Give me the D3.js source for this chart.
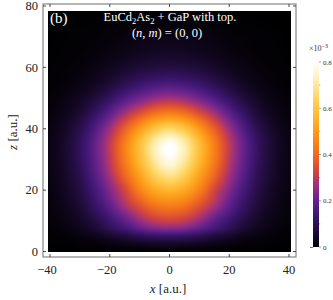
<!DOCTYPE html>
<html><head><meta charset="utf-8">
<script src="https://cdn.jsdelivr.net/npm/d3@7"></script>
<style>html,body{margin:0;padding:0;background:#fff;}svg{display:block;}</style>
</head><body>
<svg id="chart" width="333" height="300"></svg>
<script>
// ---- data (values in units of 1e-3), rows read at fixed z, columns at xGrid ----
const xGrid = [-40,-35,-30,-25,-20,-15,-10,-5,0,5,10,15,20,25,30,35,40];
const zGrid = [0,2.5,5,7.5,10,15,20,25,30,35,40,45,50,55,60,65,70,75,80];
const z0   = [0,0,0,0,0,0,0,0,0,0,0,0,0,0,0,0,0];
const z2_5 = [0.002,0.003,0.007,0.011,0.019,0.027,0.037,0.044,0.046,0.044,0.037,0.027,0.019,0.011,0.007,0.003,0.002];
const z5   = [0.004,0.008,0.017,0.029,0.050,0.072,0.099,0.118,0.124,0.118,0.099,0.072,0.050,0.029,0.017,0.008,0.004];
const z7_5 = [0.008,0.017,0.033,0.058,0.101,0.144,0.194,0.231,0.244,0.231,0.194,0.144,0.101,0.058,0.033,0.017,0.008];
const z10  = [0.011,0.023,0.043,0.077,0.131,0.188,0.257,0.306,0.321,0.306,0.257,0.188,0.131,0.077,0.043,0.023,0.011];
const z15  = [0.015,0.032,0.063,0.119,0.192,0.280,0.355,0.419,0.440,0.419,0.355,0.280,0.192,0.119,0.063,0.032,0.015];
const z20  = [0.019,0.040,0.079,0.148,0.235,0.330,0.445,0.530,0.560,0.530,0.445,0.330,0.235,0.148,0.079,0.040,0.019];
const z25  = [0.022,0.047,0.095,0.175,0.275,0.395,0.515,0.630,0.690,0.630,0.515,0.395,0.275,0.175,0.095,0.047,0.022];
const z30  = [0.024,0.051,0.105,0.192,0.300,0.435,0.570,0.705,0.780,0.705,0.570,0.435,0.300,0.192,0.105,0.051,0.024];
const z35  = [0.024,0.053,0.108,0.195,0.305,0.440,0.580,0.720,0.795,0.720,0.580,0.440,0.305,0.195,0.108,0.053,0.024];
const z40  = [0.021,0.045,0.090,0.168,0.265,0.380,0.495,0.600,0.650,0.600,0.495,0.380,0.265,0.168,0.090,0.045,0.021];
const z45  = [0.015,0.031,0.061,0.116,0.190,0.275,0.350,0.415,0.440,0.415,0.350,0.275,0.190,0.116,0.061,0.031,0.015];
const z50  = [0.009,0.020,0.039,0.069,0.115,0.168,0.215,0.255,0.272,0.255,0.215,0.168,0.115,0.069,0.039,0.020,0.009];
const z55  = [0.006,0.011,0.022,0.038,0.061,0.094,0.124,0.145,0.154,0.145,0.124,0.094,0.061,0.038,0.022,0.011,0.006];
const z60  = [0.003,0.007,0.012,0.023,0.035,0.050,0.065,0.076,0.080,0.076,0.065,0.050,0.035,0.023,0.012,0.007,0.003];
const z65  = [0.002,0.004,0.007,0.012,0.019,0.028,0.035,0.041,0.043,0.041,0.035,0.028,0.019,0.012,0.007,0.004,0.002];
const z70  = [0.001,0.003,0.005,0.008,0.012,0.017,0.022,0.025,0.026,0.025,0.022,0.017,0.012,0.008,0.005,0.003,0.001];
const z75  = [0.001,0.001,0.002,0.003,0.005,0.007,0.009,0.010,0.010,0.010,0.009,0.007,0.005,0.003,0.002,0.001,0.001];
const z80  = [0.000,0.001,0.001,0.001,0.002,0.003,0.003,0.004,0.004,0.004,0.003,0.003,0.002,0.001,0.001,0.001,0.000];
const rows = [z0,z2_5,z5,z7_5,z10,z15,z20,z25,z30,z35,z40,z45,z50,z55,z60,z65,z70,z75,z80];

const xTicks = [-40,-20,0,20,40];
const zTicks = [0,20,40,60,80];
const cbTicks = [0,0.2,0.4,0.6,0.8];
const cbMinor = [0.1,0.3,0.5,0.7];
const vMax = 0.8;
const xExtent = [-40.8, 40.8];
const zExtent = [0, 78.5];

// colour map (sunset-like)
const cStops = [0,0.07,0.17,0.25,0.33,0.41,0.50,0.60,0.70,0.80,0.90,1];
const cCols  = ["#000000","#1a0a30","#3d1670","#63228c","#9a2f80","#d2443f","#f06a20","#fb9216","#ffb52e","#ffd35e","#ffeeb0","#ffffff"];

// ---- scales ----
const x = d3.scaleLinear().domain([-40,40]).range([50,289]);
const y = d3.scaleLinear().domain([0,80]).range([251.5,6]);
const color = d3.scaleLinear().domain(cStops.map(s=>s*vMax)).range(cCols).interpolate(d3.interpolateRgb).clamp(true);
const cbY = d3.scaleLinear().domain([0,vMax]).range([247,62]);

const svg = d3.select("#chart");
const FONT = "'Liberation Serif','Times New Roman',serif";

// ---- smooth sampling of the grid ----
function cr(p0,p1,p2,p3,t){
  return 0.5*((2*p1)+(-p0+p2)*t+(2*p0-5*p1+4*p2-p3)*t*t+(-p0+3*p1-3*p2+p3)*t*t*t);
}
function rowAt(row,xv){
  const nx=xGrid.length;
  let fx=(xv-xGrid[0])/(xGrid[1]-xGrid[0]);
  fx=Math.max(0,Math.min(nx-1,fx));
  const ix=Math.min(nx-2,Math.floor(fx)), tx=fx-ix;
  const cl=i=>Math.max(0,Math.min(nx-1,i));
  return cr(row[cl(ix-1)],row[ix],row[ix+1],row[cl(ix+2)],tx);
}
const zBis = d3.bisector(d=>d).right;
function sample(xv,zv){
  const nz=zGrid.length;
  zv=Math.max(zGrid[0],Math.min(zGrid[nz-1],zv));
  const i=Math.min(nz-2,Math.max(0,zBis(zGrid,zv)-1));
  const cl=k=>Math.max(0,Math.min(nz-1,k));
  const idx=[cl(i-1),i,i+1,cl(i+2)];
  const p=idx.map(k=>rowAt(rows[k],xv));
  const zz=idx.map(k=>zGrid[k]);
  const m1=(p[2]-p[0])/((zz[2]-zz[0])||1);
  const m2=(p[3]-p[1])/((zz[3]-zz[1])||1);
  const h=zz[2]-zz[1], t=(zv-zz[1])/h, t2=t*t, t3=t2*t;
  const v=(2*t3-3*t2+1)*p[1]+(t3-2*t2+t)*h*m1+(-2*t3+3*t2)*p[2]+(t3-t2)*h*m2;
  return Math.max(0,v);
}

// ---- heatmap raster ----
const px0=Math.round(x(xExtent[0])), px1=Math.round(x(xExtent[1]));
const py0=Math.round(y(zExtent[1])), py1=Math.round(y(zExtent[0]));
const cw=px1-px0, ch=py1-py0;
const canvas=document.createElement("canvas");
canvas.width=cw; canvas.height=ch;
const ctx=canvas.getContext("2d");
const img=ctx.createImageData(cw,ch);
for(let j=0;j<ch;j++){
  const zv=y.invert(py0+j+0.5);
  for(let i=0;i<cw;i++){
    const xv=x.invert(px0+i+0.5);
    const c=d3.rgb(color(sample(xv,zv)));
    const k=(j*cw+i)*4;
    img.data[k]=c.r; img.data[k+1]=c.g; img.data[k+2]=c.b; img.data[k+3]=255;
  }
}
ctx.putImageData(img,0,0);
svg.append("image").attr("x",px0).attr("y",py0).attr("width",cw).attr("height",ch)
  .attr("href",canvas.toDataURL());

// ---- frame ----
const fx0=43, fx1=296, fy0=4, fy1=257;
svg.append("rect").attr("x",fx0).attr("y",fy0).attr("width",fx1-fx0).attr("height",fy1-fy0)
  .attr("fill","none").attr("stroke","#8f8f8f").attr("stroke-width",1.3);

const tickCol="#333";
const tg=svg.append("g").attr("stroke",tickCol).attr("stroke-width",0.9);
xTicks.forEach(t=>{
  tg.append("line").attr("x1",x(t)).attr("x2",x(t)).attr("y1",fy1).attr("y2",fy1-3);
  tg.append("line").attr("x1",x(t)).attr("x2",x(t)).attr("y1",fy0).attr("y2",fy0+3);
});
zTicks.forEach(t=>{
  tg.append("line").attr("x1",fx0).attr("x2",fx0+3).attr("y1",y(t)).attr("y2",y(t));
  tg.append("line").attr("x1",fx1).attr("x2",fx1-3).attr("y1",y(t)).attr("y2",y(t));
});

// tick labels
const fmt=d=>d<0?"\u2212"+Math.abs(d):String(d);
svg.append("g").selectAll("text").data(xTicks).join("text")
  .attr("x",d=>x(d)-(d<0?3:0)).attr("y",274).attr("text-anchor","middle")
  .attr("font-family",FONT).attr("font-size",12.5).attr("fill","#222").text(fmt);
svg.append("g").selectAll("text").data(zTicks).join("text")
  .attr("x",38).attr("y",d=>y(d)+4.3).attr("text-anchor","end")
  .attr("font-family",FONT).attr("font-size",12.5).attr("fill","#222").text(fmt);

// axis titles
const xt=svg.append("text").attr("x",168).attr("y",293).attr("text-anchor","middle")
  .attr("font-family",FONT).attr("font-size",13).attr("fill","#222");
xt.append("tspan").attr("font-style","italic").text("x");
xt.append("tspan").text(" [a.u.]");
const zt=svg.append("text").attr("transform","translate(17,132) rotate(-90)").attr("text-anchor","middle")
  .attr("font-family",FONT).attr("font-size",13).attr("fill","#222");
zt.append("tspan").attr("font-style","italic").text("z");
zt.append("tspan").text(" [a.u.]");

// in-plot labels
svg.append("text").attr("x",50).attr("y",23).attr("font-family",FONT).attr("font-size",15)
  .attr("fill","#fff").text("(b)");
const t1=svg.append("text").attr("x",170).attr("y",21).attr("text-anchor","middle")
  .attr("font-family",FONT).attr("font-size",12.5).attr("fill","#fff");
t1.append("tspan").text("EuCd");
t1.append("tspan").attr("font-size",8.5).attr("dy",2.5).text("2");
t1.append("tspan").attr("dy",-2.5).text("As");
t1.append("tspan").attr("font-size",8.5).attr("dy",2.5).text("2");
t1.append("tspan").attr("dy",-2.5).text(" + GaP with top.");
const t2=svg.append("text").attr("x",167).attr("y",37).attr("text-anchor","middle")
  .attr("font-family",FONT).attr("font-size",12.5).attr("fill","#fff");
t2.append("tspan").text("(");
t2.append("tspan").attr("font-style","italic").text("n");
t2.append("tspan").text(", ");
t2.append("tspan").attr("font-style","italic").text("m");
t2.append("tspan").text(") = (0, 0)");

// ---- colour bar ----
const defs=svg.append("defs");
const grad=defs.append("linearGradient").attr("id","cb").attr("x1",0).attr("y1",1).attr("x2",0).attr("y2",0);
grad.selectAll("stop").data(cStops).join("stop")
  .attr("offset",d=>d).attr("stop-color",(d,i)=>cCols[i]);
svg.append("rect").attr("x",313).attr("y",cbY(vMax)).attr("width",6).attr("height",cbY(0)-cbY(vMax))
  .attr("fill","url(#cb)");
const cg=svg.append("g").attr("stroke","#777").attr("stroke-width",0.7);
cbTicks.forEach(t=>cg.append("line").attr("x1",319).attr("x2",321).attr("y1",cbY(t)).attr("y2",cbY(t)));
cbMinor.forEach(t=>cg.append("line").attr("x1",319).attr("x2",320.3).attr("y1",cbY(t)).attr("y2",cbY(t)));
svg.append("line").attr("x1",310).attr("x2",313).attr("y1",cbY(0)+0.5).attr("y2",cbY(0)+0.5)
  .attr("stroke","#777").attr("stroke-width",1);
svg.append("g").selectAll("text").data(cbTicks).join("text")
  .attr("x",323).attr("y",d=>cbY(d)+2.5).attr("font-family",FONT).attr("font-size",7)
  .attr("fill","#333").text(d=>d===0?"0":d.toFixed(1));
const ex=svg.append("text").attr("x",309).attr("y",51).attr("font-family",FONT).attr("font-size",8).attr("fill","#333");
ex.append("tspan").text("\u00d710");
ex.append("tspan").attr("font-size",6).attr("dy",-3).text("\u22123");
</script>
</body></html>
